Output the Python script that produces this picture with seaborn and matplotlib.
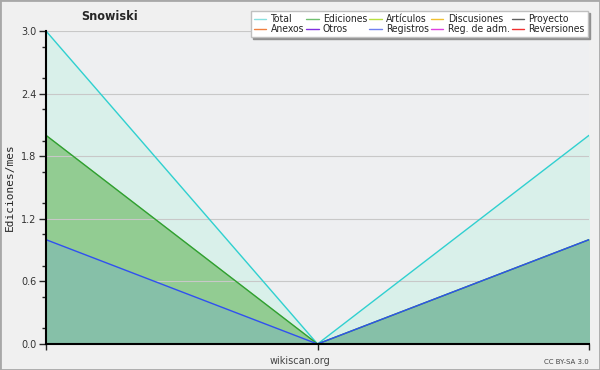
import matplotlib
matplotlib.use("Agg")
import matplotlib.pyplot as plt
import seaborn as sns
import pandas as pd
from matplotlib.lines import Line2D
from matplotlib.patches import Rectangle
from matplotlib.ticker import FixedLocator
from matplotlib.font_manager import FontProperties

months = [0, 1, 2]
total = [3, 0, 2]
ediciones = [2, 0, 1]
registros = [1, 0, 1]

legend_labels = ["Total", "Ediciones", "Artículos", "Discusiones", "Proyecto",
                 "Anexos", "Otros", "Registros", "Reg. de adm.", "Reversiones"]
legend_colors = ["#88e0e0", "#70c070", "#b8e040", "#f0c030", "#606060",
                 "#f08040", "#8030e0", "#7080f0", "#e040e0", "#f03030"]

sns.set_style("white")
plt.rcParams['font.family'] = ['DejaVu Sans']

fig = plt.figure(figsize=(6, 3.7), dpi=100, facecolor="#f0f0f0")
ax = fig.add_axes([46/600, 26/370, 543/600, 313/370])
ax.set_facecolor("#eeeff1")

df = pd.DataFrame({"x": months, "Total": total, "Ediciones": ediciones, "Registros": registros})

ax.fill_between(df["x"], 0, df["Total"], color="#d9f0ea", zorder=1)
ax.fill_between(df["x"], 0, df["Ediciones"], color="#92cc92", zorder=2)
ax.fill_between(df["x"], 0, df["Registros"], color="#86c0a8", zorder=3)

sns.lineplot(data=df, x="x", y="Total", color="#30d0d0", lw=1, ax=ax, zorder=4)
sns.lineplot(data=df, x="x", y="Ediciones", color="#30a030", lw=1, ax=ax, zorder=5)
sns.lineplot(data=df, x="x", y="Registros", color="#3050f0", lw=1, ax=ax, zorder=6)

ax.set_xlim(0, 2)
ax.set_ylim(0, 3.0)
ax.set_yticks([0.0, 0.6, 1.2, 1.8, 2.4, 3.0])
ax.set_yticklabels(["0.0", "0.6", "1.2", "1.8", "2.4", "3.0"], fontsize=7, color="#333333")
minors = []
for base in [0.0, 0.6, 1.2, 1.8, 2.4]:
    minors += [base + 0.15, base + 0.45]
ax.yaxis.set_minor_locator(FixedLocator(minors))
ax.set_xticks([0, 1, 2])
ax.set_xticklabels([])
ax.tick_params(axis="y", which="major", length=5, width=1, direction="out", left=True, pad=2)
ax.tick_params(axis="y", which="minor", length=3, width=1, direction="out", left=True)
ax.tick_params(axis="x", which="major", length=4, width=1, direction="out", bottom=True)
ax.grid(axis="y", color="#c8c8c8", lw=0.8, zorder=0)
ax.set_axisbelow(False)
for s in ["top", "right"]:
    ax.spines[s].set_visible(False)
for s in ["left", "bottom"]:
    ax.spines[s].set_color("black")
    ax.spines[s].set_linewidth(1.5)
    ax.spines[s].set_zorder(10)
ax.set_xlabel("")
ax.set_ylabel("Ediciones/mes", fontsize=8, family="DejaVu Sans Mono", labelpad=4)

# legend (row-wise order)
handles = [Line2D([], [], color=c, lw=1) for c in legend_colors]
order = []
for col in range(5):
    order += [col, col + 5]
leg_font = FontProperties(family="DejaVu Sans", stretch="condensed", size=7.5)
leg = ax.legend([handles[i] for i in order], [legend_labels[i] for i in order],
                ncol=5, loc="upper right", bbox_to_anchor=(593/600, 364/370),
                bbox_transform=fig.transFigure, prop=leg_font, frameon=True,
                handlelength=1.2, handletextpad=0.4, columnspacing=0.2,
                labelspacing=0.0, borderpad=0.3, fancybox=False,
                shadow={"color": "#909090", "alpha": 1.0, "ox": 1.4, "oy": -1.4})
leg.get_frame().set_edgecolor("#c0c0c0")
leg.get_frame().set_facecolor("white")
leg.set_zorder(20)

fig.text(110/600, 1 - 17/370, "Snowiski", fontsize=9, fontweight="bold",
         fontstretch="condensed", ha="center", va="center")
fig.text(300/600, 1 - 361/370, "wikiscan.org", fontsize=7, color="#444444", ha="center", va="center")
fig.text(589/600, 1 - 362/370, "CC BY-SA 3.0", fontsize=5, color="#444444", ha="right", va="center")

fig.patches.append(Rectangle((0, 0), 1, 1, transform=fig.transFigure, fill=False,
                             edgecolor="#a8a8a8", lw=2, zorder=30))

fig.savefig("out.png", dpi=100, facecolor=fig.get_facecolor())
